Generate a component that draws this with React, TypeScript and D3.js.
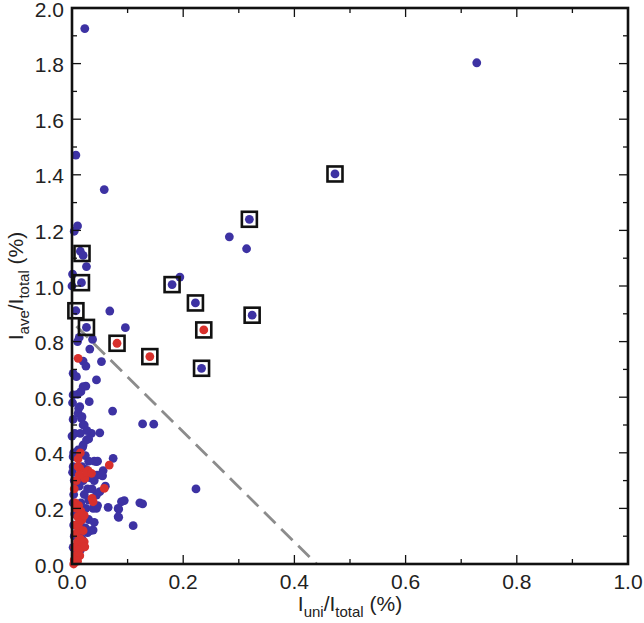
import React from "react";
import * as d3 from "d3";

const xTicks = [0, 0.2, 0.4, 0.6, 0.8, 1.0];
const yTicks = [0, 0.2, 0.4, 0.6, 0.8, 1.0, 1.2, 1.4, 1.6, 1.8, 2.0];

const bluePoints: [number, number][] = [
  [0.023, 1.926], [0.728, 1.803], [0.007, 1.471], [0.058, 1.347], [0.473, 1.403],
  [0.319, 1.24], [0.283, 1.177], [0.314, 1.134], [0.01, 1.216], [0.004, 1.197],
  [0.015, 1.125], [0.02, 1.11], [0.026, 1.07], [0.001, 1.043], [0.194, 1.032],
  [0.18, 1.005], [0.017, 1.012], [0.0, 1.0], [0.222, 0.939], [0.324, 0.895],
  [0.007, 0.911], [0.068, 0.91], [0.026, 0.851], [0.096, 0.85], [0.233, 0.704],
  [0.013, 0.815], [0.037, 0.808], [0.01, 0.8], [0.032, 0.773], [0.02, 0.73],
  [0.025, 0.712], [0.053, 0.728], [0.002, 0.686], [0.008, 0.674], [0.044, 0.662],
  [0.02, 0.638], [0.025, 0.64], [0.01, 0.61], [0.016, 0.62], [0.002, 0.608],
  [0.031, 0.584], [0.073, 0.55], [0.014, 0.566], [0.017, 0.524], [0.011, 0.542],
  [0.02, 0.5], [0.005, 0.47], [0.035, 0.47], [0.05, 0.472], [0.026, 0.446],
  [0.02, 0.428], [0.011, 0.41], [0.002, 0.386], [0.044, 0.368], [0.056, 0.336],
  [0.074, 0.38], [0.002, 0.35], [0.127, 0.504], [0.147, 0.503], [0.055, 0.317],
  [0.06, 0.28], [0.044, 0.248], [0.223, 0.27], [0.065, 0.204], [0.094, 0.228],
  [0.084, 0.197], [0.084, 0.168], [0.122, 0.22], [0.127, 0.216], [0.11, 0.138],
  [0.044, 0.2], [0.038, 0.122], [0.028, 0.113], [0.001, 0.58], [0.002, 0.52],
  [0.0, 0.46], [0.003, 0.4], [0.001, 0.33], [0.004, 0.3], [0.003, 0.25],
  [0.002, 0.22], [0.005, 0.18], [0.003, 0.14], [0.004, 0.1], [0.002, 0.06],
  [0.006, 0.03], [0.012, 0.56], [0.018, 0.53], [0.022, 0.5], [0.027, 0.48],
  [0.015, 0.47], [0.03, 0.45], [0.019, 0.42], [0.024, 0.39], [0.03, 0.37],
  [0.04, 0.37], [0.046, 0.37], [0.018, 0.35], [0.025, 0.34], [0.033, 0.31],
  [0.04, 0.3], [0.045, 0.32], [0.02, 0.3], [0.013, 0.28], [0.028, 0.27],
  [0.036, 0.27], [0.05, 0.26], [0.022, 0.25], [0.03, 0.23], [0.016, 0.22],
  [0.025, 0.2], [0.038, 0.2], [0.046, 0.21], [0.012, 0.19], [0.02, 0.17],
  [0.03, 0.16], [0.04, 0.15], [0.015, 0.15], [0.024, 0.13], [0.033, 0.12],
  [0.012, 0.11], [0.018, 0.09], [0.01, 0.07], [0.015, 0.05], [0.008, 0.04],
  [0.005, 0.01], [0.053, 0.32], [0.089, 0.224], [0.083, 0.2], [0.083, 0.17],
];

const redPoints: [number, number][] = [
  [0.011, 0.74], [0.011, 0.378], [0.014, 0.344], [0.029, 0.336], [0.067, 0.356],
  [0.023, 0.308], [0.058, 0.272], [0.036, 0.236], [0.038, 0.224], [0.011, 0.35],
  [0.013, 0.32], [0.008, 0.3], [0.004, 0.27], [0.006, 0.22], [0.008, 0.2],
  [0.012, 0.21], [0.016, 0.19], [0.01, 0.17], [0.018, 0.16], [0.013, 0.15],
  [0.022, 0.175], [0.006, 0.14], [0.012, 0.13], [0.02, 0.12], [0.008, 0.11],
  [0.015, 0.09], [0.01, 0.08], [0.022, 0.08], [0.005, 0.06], [0.018, 0.06],
  [0.023, 0.062], [0.012, 0.05], [0.007, 0.03], [0.014, 0.03], [0.004, 0.015],
  [0.01, 0.01], [0.003, 0.0], [0.026, 0.33], [0.035, 0.326], [0.015, 0.4],
  [0.081, 0.794], [0.14, 0.746], [0.237, 0.842],
];

const boxedPoints: [number, number][] = [
  [0.473, 1.403], [0.319, 1.24], [0.18, 1.005], [0.222, 0.939], [0.324, 0.895],
  [0.237, 0.842], [0.14, 0.746], [0.233, 0.704], [0.081, 0.794], [0.018, 1.117],
  [0.017, 1.012], [0.007, 0.911], [0.026, 0.851],
];

const guideLine: [number, number][] = [
  [0.008, 0.855],
  [0.44, 0.0],
];

export default function App() {
  const left = 72, right = 628, top = 8, bottom = 564;
  const x = d3.scaleLinear().domain([0, 1]).range([left, right]);
  const y = d3.scaleLinear().domain([0, 2]).range([bottom, top]);
  const font = "'Liberation Sans', Arial, sans-serif";
  const blue = "#3d32a3";
  const red = "#d8302c";
  const r = 4.4;
  const box = 15;

  const xMinor = d3.range(0, 1.0001, 0.1);
  const yMinor = d3.range(0, 2.0001, 0.1);
  const line = d3.line<[number, number]>().x((d) => x(d[0])).y((d) => y(d[1]));

  return (
    <svg width={644} height={623} style={{ position: "absolute", left: 0, top: 0, background: "#fff" }}>
      <rect x={0} y={0} width={644} height={623} fill="#fff" />
      <path d={line(guideLine) || ""} stroke="#8c8c8c" strokeWidth={2.8} strokeDasharray="16,8" fill="none" />
      {bluePoints.map((d, i) => (
        <circle key={"b" + i} cx={x(d[0])} cy={y(d[1])} r={r} fill={blue} />
      ))}
      {redPoints.map((d, i) => (
        <circle key={"r" + i} cx={x(d[0])} cy={y(d[1])} r={r} fill={red} />
      ))}
      {boxedPoints.map((d, i) => (
        <rect key={"q" + i} x={x(d[0]) - box / 2} y={y(d[1]) - box / 2} width={box} height={box}
          fill="none" stroke="#111" strokeWidth={2.6} />
      ))}
      {xMinor.map((v, i) => {
        const major = i % 2 === 0;
        const len = major ? 9 : 5;
        return (
          <g key={"xt" + i}>
            <line x1={x(v)} x2={x(v)} y1={bottom} y2={bottom - len} stroke="#111" strokeWidth={1.3} />
            <line x1={x(v)} x2={x(v)} y1={top} y2={top + len} stroke="#111" strokeWidth={1.3} />
          </g>
        );
      })}
      {yMinor.map((v, i) => {
        const major = i % 2 === 0;
        const len = major ? 9 : 5;
        return (
          <g key={"yt" + i}>
            <line x1={left} x2={left + len} y1={y(v)} y2={y(v)} stroke="#111" strokeWidth={1.3} />
            <line x1={right} x2={right - len} y1={y(v)} y2={y(v)} stroke="#111" strokeWidth={1.3} />
          </g>
        );
      })}
      <rect x={left} y={top} width={right - left} height={bottom - top} fill="none" stroke="#111" strokeWidth={2.6} />
      {xTicks.map((v, i) => (
        <text key={"xl" + i} x={x(v)} y={589} textAnchor="middle" fontFamily={font} fontSize={21} fill="#222">
          {v.toFixed(1)}
        </text>
      ))}
      {yTicks.map((v, i) => (
        <text key={"yl" + i} x={64} y={y(v) + 8.5} textAnchor="end" fontFamily={font} fontSize={21} fill="#222">
          {v.toFixed(1)}
        </text>
      ))}
      <text x={350} y={611} textAnchor="middle" fontFamily={font} fontSize={21} fill="#222">
        I<tspan fontSize={15} dy={6}>uni</tspan>
        <tspan dy={-6}>/I</tspan>
        <tspan fontSize={15} dy={6}>total</tspan>
        <tspan dy={-6}> (%)</tspan>
      </text>
      <text transform={`translate(23,${(top + bottom) / 2}) rotate(-90)`} textAnchor="middle" fontFamily={font} fontSize={21} fill="#222">
        I<tspan fontSize={15} dy={6}>ave</tspan>
        <tspan dy={-6}>/I</tspan>
        <tspan fontSize={15} dy={6}>total</tspan>
        <tspan dy={-6}> (%)</tspan>
      </text>
    </svg>
  );
}
